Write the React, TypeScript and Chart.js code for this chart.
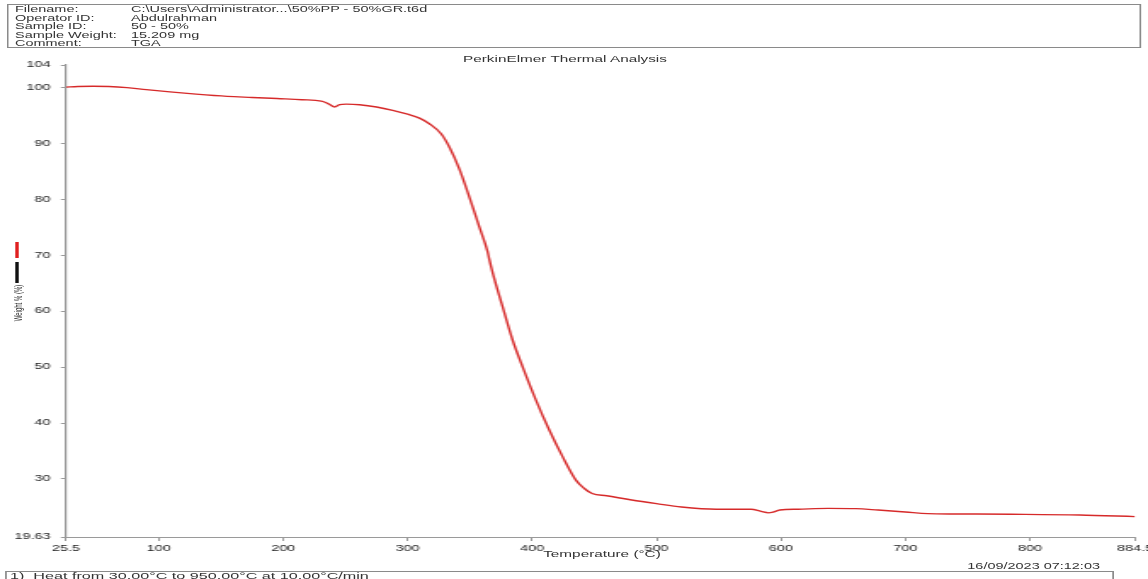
import React, { useEffect, useRef } from "react";
import { Chart, registerables } from "chart.js";

Chart.register(...registerables);

// Temperature (°C) and Weight %
const temps = [
  25.5, 35, 47, 60, 74.5, 90, 109, 130, 155, 175, 195, 215, 230.6, 234.6, 238,
  241.3, 245.3, 250.7, 261.4, 275, 288, 300, 309.5, 317.5, 326.9, 333.6, 341.6,
  349.6, 357.6, 364.3, 365.5, 368.3, 376.3, 384.4, 392.4, 403.1, 413.8, 424.5,
  435.2, 442, 448.3, 460, 480, 500, 520, 548, 576, 584, 590, 594, 599, 614, 638,
  660, 678, 700, 718, 740, 785, 840, 884.5,
];
const weights = [
  100.05, 100.15, 100.2, 100.15, 99.95, 99.6, 99.2, 98.8, 98.4, 98.2, 98.0, 97.8,
  97.55, 97.26, 96.85, 96.5, 96.9, 97.0, 96.9, 96.5, 95.9, 95.2, 94.5, 93.5, 91.7,
  89.3, 85.4, 80.4, 75.05, 70.6, 69.4, 66.9, 60.8, 54.8, 50.05, 44.1, 38.75, 34.0,
  29.8, 28.3, 27.4, 27.0, 26.25, 25.6, 25.0, 24.6, 24.6, 24.2, 23.95, 24.1, 24.45,
  24.6, 24.75, 24.7, 24.45, 24.1, 23.8, 23.75, 23.7, 23.57, 23.27,
];
const yTicks = [19.63, 30, 40, 50, 60, 70, 80, 90, 100, 104];
const xTicks = [25.5, 100, 200, 300, 400, 500, 600, 700, 800, 884.5];

const headerLabels = ["Filename:", "Operator ID:", "Sample ID:", "Sample Weight:", "Comment:"];
const headerValues = [
  "C:\\Users\\Administrator...\\50%PP - 50%GR.t6d",
  "Abdulrahman",
  "50 - 50%",
  "15.209 mg",
  "TGA",
];

const K = 1148 / 675; // horizontal stretch of the reference picture
const FONT = "'Liberation Sans', Arial, sans-serif";

export default function App() {
  const ref = useRef<HTMLCanvasElement | null>(null);

  useEffect(() => {
    if (!ref.current) return;
    const axisColor = "#9a9a9a";
    const chart = new Chart(ref.current, {
      type: "scatter",
      data: {
        datasets: [
          {
            data: temps.map((t, i) => ({ x: t, y: weights[i] })),
            showLine: true,
            borderColor: "#d62a2a",
            borderWidth: 1.4,
            pointRadius: 0,
            cubicInterpolationMode: "monotone",
          },
        ],
      },
      options: {
        animation: false,
        responsive: false,
        devicePixelRatio: 1,
        layout: { padding: { left: 0, top: 65, right: 700 - 1135 / K, bottom: 0 } },
        plugins: { legend: { display: false }, tooltip: { enabled: false } },
        scales: {
          x: {
            type: "linear",
            min: 25.5,
            max: 884.5,
            afterBuildTicks: (s: any) => {
              s.ticks = xTicks.map((v) => ({ value: v }));
            },
            afterFit: (s: any) => {
              s.height = 42;
            },
            grid: { display: true, drawOnChartArea: false, drawTicks: true, tickLength: 4, color: axisColor },
            border: { display: true, color: axisColor, width: 1 },
            ticks: {
              autoSkip: false,
              maxRotation: 0,
              padding: 2.5,
              color: "#222",
              font: { family: FONT, size: 8.5 },
              callback: (v: any) => String(v),
            },
          },
          y: {
            type: "linear",
            min: 19.63,
            max: 104,
            afterBuildTicks: (s: any) => {
              s.ticks = yTicks.map((v) => ({ value: v }));
            },
            afterFit: (s: any) => {
              s.width = 66 / K;
            },
            grid: { display: true, drawOnChartArea: false, drawTicks: true, tickLength: 3, color: axisColor },
            border: { display: true, color: axisColor, width: 1.2 },
            ticks: {
              autoSkip: false,
              padding: 6,
              color: "#222",
              font: { family: FONT, size: 8.5 },
              callback: (v: any) => String(v),
            },
          },
        },
      },
    });
    return () => chart.destroy();
  }, []);

  const abs = (s: React.CSSProperties): React.CSSProperties => ({ position: "absolute", ...s });

  return (
    <div
      style={{
        position: "fixed",
        left: 0,
        top: 0,
        width: 675,
        height: 579,
        overflow: "hidden",
        transform: `scaleX(${K})`,
        transformOrigin: "0 0",
        background: "#fff",
        fontFamily: FONT,
        color: "#333",
      }}
    >
      <canvas
        ref={ref}
        width={700}
        height={579}
        style={{ position: "absolute", left: 0, top: 0, width: "700px", height: "579px" }}
      />
      {/* header box */}
      <div
        style={abs({
          left: 7 / K,
          top: 4,
          width: (1141 - 7) / K,
          height: 44,
          border: "1px solid #8a8a8a",
          boxSizing: "border-box",
        })}
      />
      {headerLabels.map((l, i) => (
        <div key={"l" + i} style={abs({ left: 15 / K, top: 5 + i * 8.5, fontSize: 8.5, lineHeight: "8.5px", whiteSpace: "nowrap" })}>
          {l}
        </div>
      ))}
      {headerValues.map((v, i) => (
        <div key={"v" + i} style={abs({ left: 131 / K, top: 5 + i * 8.5, fontSize: 8.5, lineHeight: "8.5px", whiteSpace: "nowrap" })}>
          {v}
        </div>
      ))}
      {/* title */}
      <div style={abs({ left: 565 / K - 100, top: 54, width: 200, textAlign: "center", fontSize: 9, lineHeight: "10px", whiteSpace: "nowrap" })}>
        PerkinElmer Thermal Analysis
      </div>
      {/* y axis legend marks and title */}
      <div style={abs({ left: 17 / K - 0.6, top: 242, width: 1.2, height: 16, background: "#e02020" })} />
      <div style={abs({ left: 17 / K - 0.6, top: 262, width: 1.2, height: 21, background: "#111" })} />
      <div
        style={abs({
          left: 19 / K - 30,
          top: 303 - 4,
          width: 60,
          height: 8,
          textAlign: "center",
          fontSize: 6,
          lineHeight: "8px",
          whiteSpace: "nowrap",
          transform: "rotate(-90deg)",
          transformOrigin: "50% 50%",
        })}
      >
        Weight % (%)
      </div>
      {/* x axis title */}
      <div style={abs({ left: 602 / K - 60, top: 553 - 4, width: 120, textAlign: "center", fontSize: 9, lineHeight: "10px", whiteSpace: "nowrap" })}>
        Temperature (°C)
      </div>
      {/* date */}
      <div style={abs({ left: 1100 / K - 120, top: 561, width: 120, textAlign: "right", fontSize: 8.5, lineHeight: "10px", whiteSpace: "nowrap" })}>
        16/09/2023 07:12:03
      </div>
      {/* footer box */}
      <div
        style={abs({
          left: 5 / K,
          top: 571,
          width: (1114 - 5) / K,
          height: 20,
          border: "1px solid #8a8a8a",
          boxSizing: "border-box",
        })}
      />
      <div style={abs({ left: 10 / K, top: 572, fontSize: 9.5, lineHeight: "8px", whiteSpace: "nowrap" })}>
        1)&nbsp; Heat from 30.00°C to 950.00°C at 10.00°C/min
      </div>
    </div>
  );
}
